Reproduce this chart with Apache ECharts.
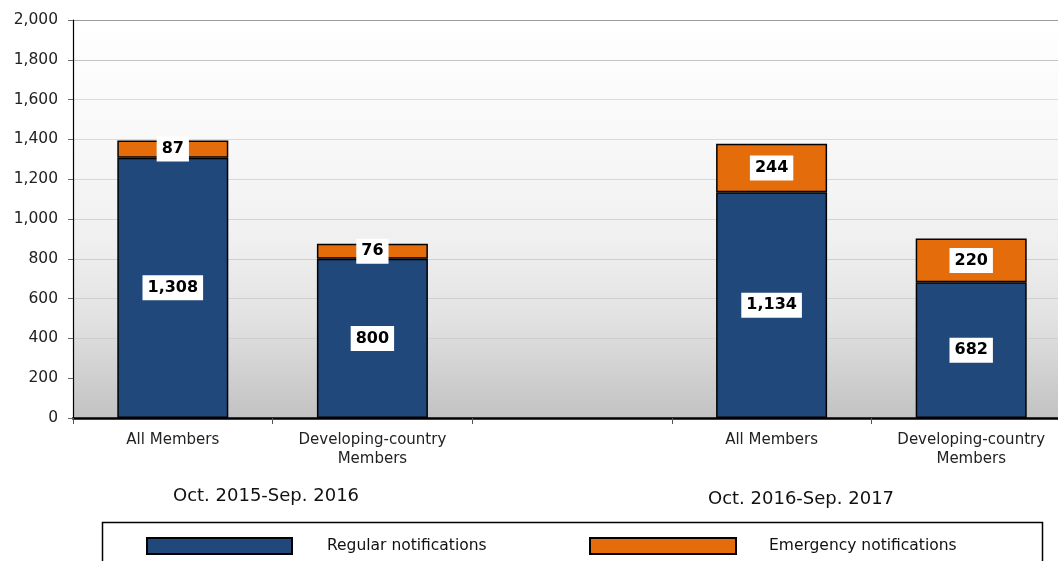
<!DOCTYPE html>
<html>
<head>
<meta charset="utf-8">
<script src="https://cdn.jsdelivr.net/npm/echarts@6/dist/echarts.min.js"></script>
<style>
  html, body { margin: 0; padding: 0; background: #fff; }
  #chart { width: 1058px; height: 561px; }
</style>
</head>
<body>
<div id="chart"></div>
<script>
var categories = ['All Members', 'Developing-country\nMembers', '', 'All Members', 'Developing-country\nMembers']
var regular = [1308, 800, null, 1134, 682]
var emergency = [87, 76, null, 244, 220]
var periods = ['Oct. 2015-Sep. 2016', 'Oct. 2016-Sep. 2017']

var FONT = 'DejaVu Sans'
var fmt = function(v) {
  return Number(v).toLocaleString('en-US')
}

var chart = echarts.init(document.getElementById('chart'))

var labelStyle = {
  show: true,
  position: 'inside',
  formatter: function(p) { return fmt(p.value) },
  fontFamily: FONT,
  fontWeight: 'bold',
  fontSize: 16,
  color: '#000',
  backgroundColor: '#fff',
  padding: [5, 5, 4, 5]
}

// grid lines: light gray, the top (2,000) one darker
var gridColors = ['#c8c8c8', '#cfcfcf', '#cfcfcf', '#cfcfcf', '#cfcfcf', '#d4d4d4',
  '#d8d8d8', '#dadada', '#dcdcdc', '#c4c4c4', '#9a9a9a']

chart.setOption({
  animation: false,
  textStyle: { fontFamily: FONT },
  grid: {
    left: 73,
    top: 20,
    width: 998,
    height: 398,
    outerBoundsMode: 'none',
    containLabel: false,
    show: true,
    borderWidth: 0,
    backgroundColor: {
      type: 'linear', x: 0, y: 0, x2: 0, y2: 1,
      colorStops: [
        { offset: 0, color: '#ffffff' },
        { offset: 0.3, color: '#f8f8f8' },
        { offset: 0.55, color: '#f0f0f0' },
        { offset: 0.75, color: '#e2e2e2' },
        { offset: 1, color: '#c2c2c2' }
      ]
    }
  },
  legend: [
    {
      data: ['Regular notifications'],
      left: 146,
      top: 537,
      padding: 0,
      itemWidth: 145,
      itemHeight: 16,
      icon: 'rect',
      textStyle: { fontFamily: FONT, fontSize: 15.5, color: '#111', padding: [0, 0, 0, 30] }
    },
    {
      data: ['Emergency notifications'],
      left: 589,
      top: 537,
      padding: 0,
      itemWidth: 146,
      itemHeight: 16,
      icon: 'rect',
      textStyle: { fontFamily: FONT, fontSize: 15.5, color: '#111', padding: [0, 0, 0, 28] }
    }
  ],
  xAxis: {
    type: 'category',
    data: categories,
    axisLine: { lineStyle: { color: '#000', width: 2.5 } },
    axisTick: { show: true, length: 6, lineStyle: { color: '#555' } },
    axisLabel: { fontFamily: FONT, fontSize: 15, color: '#222', margin: 13, lineHeight: 19, interval: 0 }
  },
  yAxis: {
    type: 'value',
    min: 0,
    max: 2000,
    interval: 200,
    axisLine: { show: true, lineStyle: { color: '#000', width: 1.2 } },
    axisTick: { show: true, length: 5, lineStyle: { color: '#666' } },
    axisLabel: { fontFamily: FONT, fontSize: 15.5, color: '#222', margin: 15, formatter: fmt },
    splitLine: { lineStyle: { color: gridColors, width: 1 } }
  },
  series: [
    {
      name: 'Regular notifications',
      type: 'bar',
      stack: 'total',
      barWidth: 111,
      data: regular,
      itemStyle: { color: '#21487b', borderColor: '#000', borderWidth: 1.5 },
      label: labelStyle
    },
    {
      name: 'Emergency notifications',
      type: 'bar',
      stack: 'total',
      barWidth: 111,
      data: emergency,
      itemStyle: { color: '#e46c0a', borderColor: '#000', borderWidth: 1.5 },
      label: labelStyle
    }
  ],
  graphic: [
    {
      type: 'rect',
      z: -1,
      shape: { x: 102.5, y: 522.5, width: 940, height: 60 },
      style: { fill: '#fff', stroke: '#000', lineWidth: 1.5 }
    },
    {
      type: 'text',
      left: 173,
      top: 487,
      style: { text: periods[0], fontSize: 18, fill: '#111', fontFamily: FONT }
    },
    {
      type: 'text',
      left: 708,
      top: 490,
      style: { text: periods[1], fontSize: 18, fill: '#111', fontFamily: FONT }
    }
  ]
})
</script>
</body>
</html>
